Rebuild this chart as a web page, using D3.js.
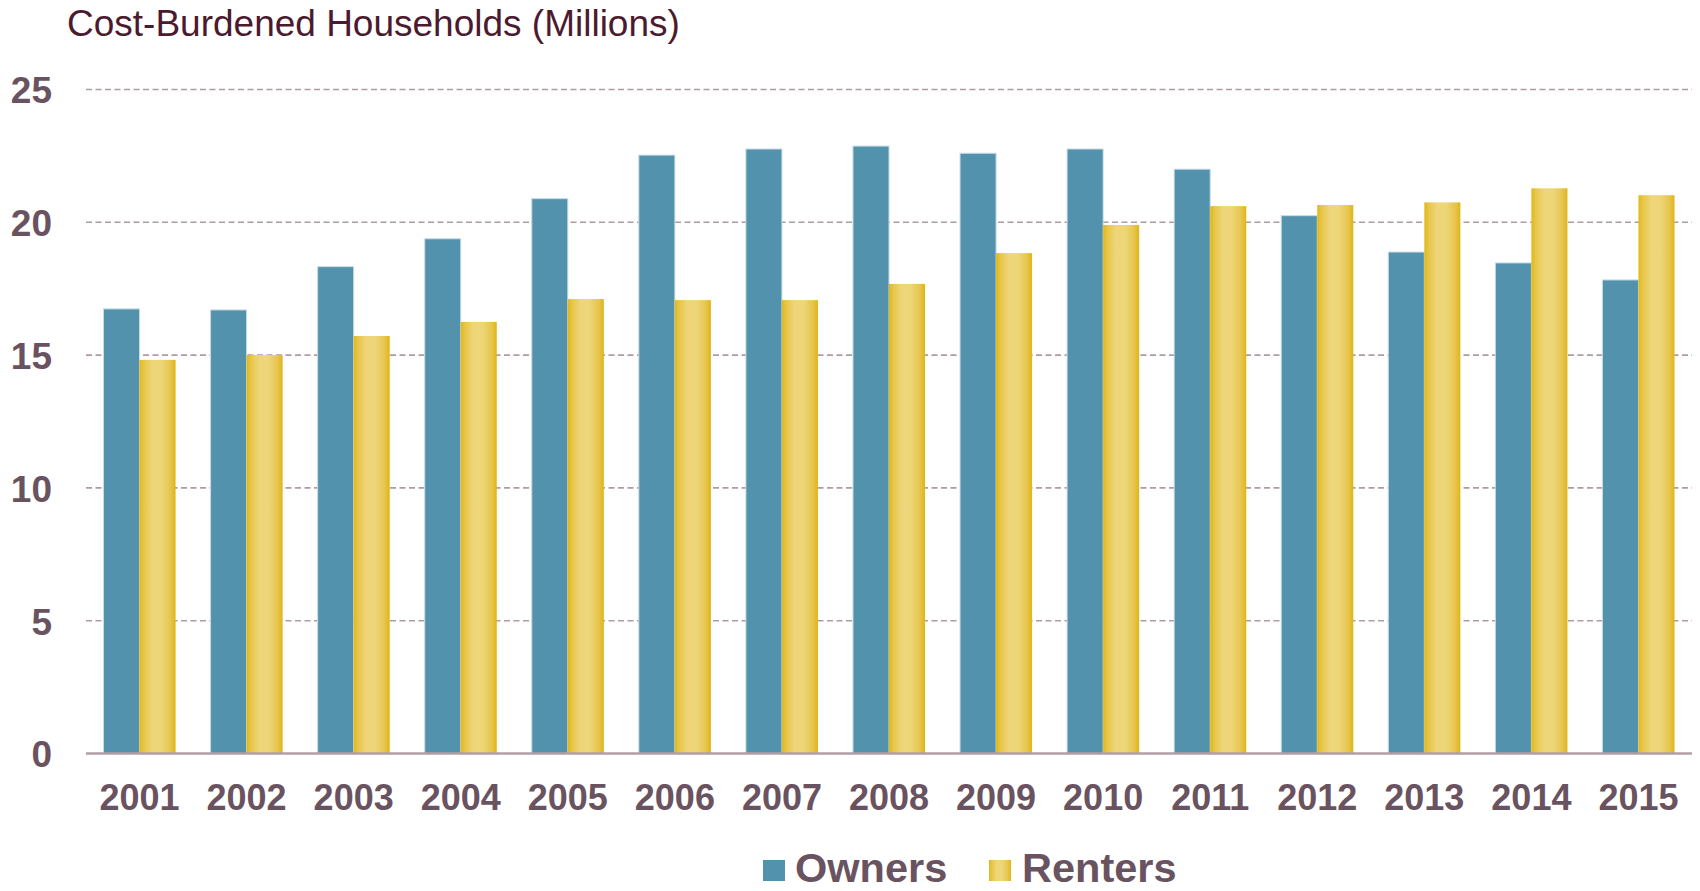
<!DOCTYPE html>
<html>
<head>
<meta charset="utf-8">
<script src="https://cdn.jsdelivr.net/npm/d3@7"></script>
<style>
  html, body { margin: 0; padding: 0; background: #ffffff; }
  svg { display: block; }
</style>
</head>
<body>
<svg id="chart" width="1700" height="891"></svg>
<script>
const years = ["2001","2002","2003","2004","2005","2006","2007","2008","2009","2010","2011","2012","2013","2014","2015"];
const owners = [16.74, 16.70, 18.33, 19.38, 20.89, 22.53, 22.76, 22.87, 22.60, 22.76, 22.00, 20.25, 18.88, 18.47, 17.83];
const renters = [14.82, 15.00, 15.72, 16.25, 17.11, 17.07, 17.07, 17.68, 18.84, 19.90, 20.61, 20.65, 20.75, 21.28, 21.02];
const seriesNames = ["Owners", "Renters"];
const yTicks = [0, 5, 10, 15, 20, 25];
const titleText = "Cost-Burdened Households (Millions)";

const svg = d3.select("#chart");
const plotLeft = 86, plotRight = 1692, plotTop = 89.5, plotBottom = 753.5;

const defs = svg.append("defs");
const grad = defs.append("linearGradient").attr("id", "gold").attr("x1", "0%").attr("x2", "100%").attr("y1", "0%").attr("y2", "0%");
[[0, "#e1b716"], [0.12, "#e7c648"], [0.35, "#eed57a"], [0.6, "#edd678"], [0.85, "#e7c650"], [1, "#e0b515"]]
  .forEach(([o, c]) => grad.append("stop").attr("offset", o).attr("stop-color", c));

const x0 = d3.scaleBand().domain(years).range([plotLeft, plotRight]).paddingInner(0).paddingOuter(0);
const bandPad = 17.5;
const x1 = d3.scaleBand().domain(seriesNames).range([bandPad, x0.bandwidth() - bandPad]).padding(0);
const y = d3.scaleLinear().domain([0, 25]).range([plotBottom, plotTop]);

// title
svg.append("text")
  .attr("x", 67).attr("y", 36)
  .attr("font-family", "Liberation Sans, Arial, sans-serif")
  .attr("font-size", 37)
  .attr("fill", "#4b1a2f")
  .text(titleText);

// gridlines
const grid = svg.append("g");
grid.selectAll("line").data(yTicks.filter(t => t > 0)).join("line")
  .attr("x1", plotLeft).attr("x2", plotRight)
  .attr("y1", d => y(d)).attr("y2", d => y(d))
  .attr("stroke", "#b09ba3").attr("stroke-width", 1.6)
  .attr("stroke-dasharray", "6,3.5");

// y axis labels
const yAxis = d3.axisLeft(y).tickValues(yTicks).tickSize(0).tickPadding(0);
const yg = svg.append("g").attr("transform", `translate(52,0)`).call(yAxis);
yg.select(".domain").remove();
yg.selectAll("text")
  .attr("font-family", "Liberation Sans, Arial, sans-serif")
  .attr("font-weight", "bold").attr("font-size", 37)
  .attr("fill", "#6a5360").attr("dy", "0.36em").attr("x", 0);

// bars
const groups = svg.append("g").selectAll("g").data(years).join("g")
  .attr("transform", d => `translate(${x0(d)},0)`);
groups.append("rect")
  .attr("x", x1("Owners")).attr("width", x1.bandwidth())
  .attr("y", (d, i) => y(owners[i])).attr("height", (d, i) => y(0) - y(owners[i]))
  .attr("fill", "#5392ad").attr("stroke", "#c7dce5").attr("stroke-width", 1);
groups.append("rect")
  .attr("x", x1("Renters")).attr("width", x1.bandwidth())
  .attr("y", (d, i) => y(renters[i])).attr("height", (d, i) => y(0) - y(renters[i]))
  .attr("fill", "url(#gold)");

// x axis
svg.append("line").attr("x1", plotLeft).attr("x2", plotRight).attr("y1", plotBottom).attr("y2", plotBottom)
  .attr("stroke", "#b29ea6").attr("stroke-width", 2.5);
const xAxis = d3.axisBottom(x0).tickSize(0).tickPadding(0);
const xg = svg.append("g").attr("transform", `translate(0,${plotBottom})`).call(xAxis);
xg.select(".domain").remove();
xg.selectAll("text")
  .attr("font-family", "Liberation Sans, Arial, sans-serif")
  .attr("font-weight", "bold").attr("font-size", 36)
  .attr("fill", "#6a5360").attr("y", 56.5).attr("dy", 0);

// legend
const legend = svg.append("g");
const legendItems = [
  { name: seriesNames[0], fill: "#5392ad", sx: 763, tx: 795 },
  { name: seriesNames[1], fill: "url(#gold)", sx: 989, tx: 1022 }
];
legend.selectAll("rect").data(legendItems).join("rect")
  .attr("x", d => d.sx).attr("y", 860).attr("width", 22).attr("height", 21)
  .attr("fill", d => d.fill);
legend.selectAll("text").data(legendItems).join("text")
  .attr("x", d => d.tx).attr("y", 882)
  .attr("font-family", "Liberation Sans, Arial, sans-serif")
  .attr("font-weight", "bold").attr("font-size", 41.5)
  .attr("fill", "#6a5360")
  .text(d => d.name);
</script>
</body>
</html>
